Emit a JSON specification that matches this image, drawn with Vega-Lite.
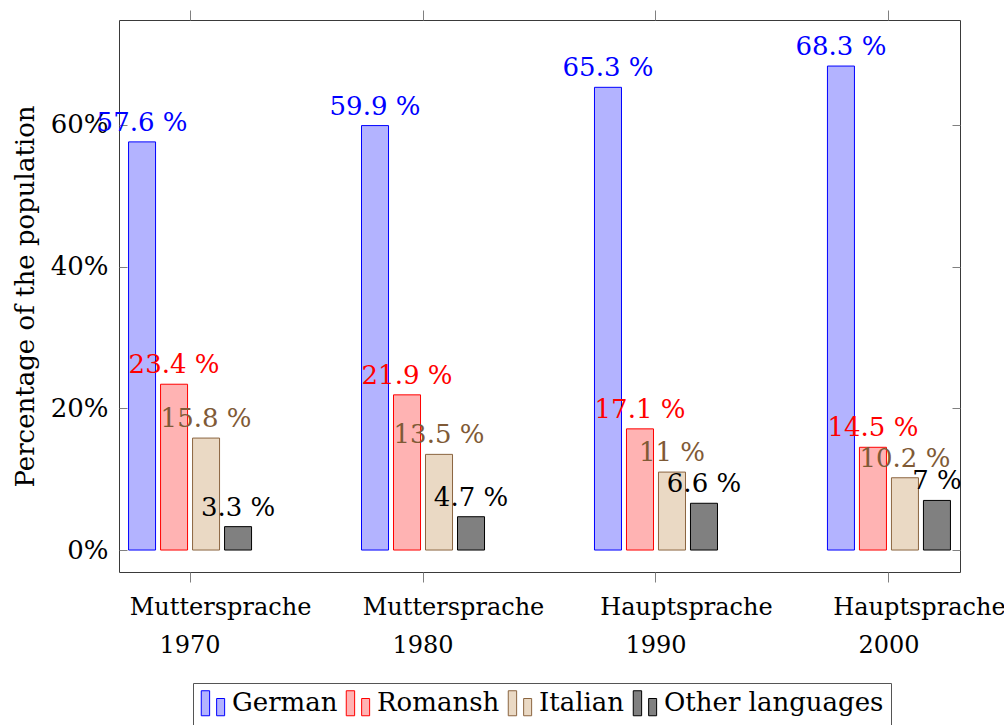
{
  "$schema": "https://vega.github.io/schema/vega-lite/v6.json",
  "autosize": {"type": "none"},
  "padding": {"left": 119, "top": 20, "right": 44, "bottom": 153},
  "width": 841,
  "height": 552,
  "background": "white",
  "config": {
    "view": {"stroke": "#3a3a3a", "strokeWidth": 1},
    "font": "DejaVu Serif"
  },
  "data": {
    "values": [
      {"cat": "Muttersprache|1970", "lang": "German", "value": 57.6, "label": "57.6 %"},
      {"cat": "Muttersprache|1970", "lang": "Romansh", "value": 23.4, "label": "23.4 %"},
      {"cat": "Muttersprache|1970", "lang": "Italian", "value": 15.8, "label": "15.8 %"},
      {"cat": "Muttersprache|1970", "lang": "Other languages", "value": 3.3, "label": "3.3 %"},
      {"cat": "Muttersprache|1980", "lang": "German", "value": 59.9, "label": "59.9 %"},
      {"cat": "Muttersprache|1980", "lang": "Romansh", "value": 21.9, "label": "21.9 %"},
      {"cat": "Muttersprache|1980", "lang": "Italian", "value": 13.5, "label": "13.5 %"},
      {"cat": "Muttersprache|1980", "lang": "Other languages", "value": 4.7, "label": "4.7 %"},
      {"cat": "Hauptsprache|1990", "lang": "German", "value": 65.3, "label": "65.3 %"},
      {"cat": "Hauptsprache|1990", "lang": "Romansh", "value": 17.1, "label": "17.1 %"},
      {"cat": "Hauptsprache|1990", "lang": "Italian", "value": 11, "label": "11 %"},
      {"cat": "Hauptsprache|1990", "lang": "Other languages", "value": 6.6, "label": "6.6 %"},
      {"cat": "Hauptsprache|2000", "lang": "German", "value": 68.3, "label": "68.3 %"},
      {"cat": "Hauptsprache|2000", "lang": "Romansh", "value": 14.5, "label": "14.5 %"},
      {"cat": "Hauptsprache|2000", "lang": "Italian", "value": 10.2, "label": "10.2 %"},
      {"cat": "Hauptsprache|2000", "lang": "Other languages", "value": 7, "label": "7 %"}
    ]
  },
  "resolve": {"axis": {"x": "independent", "y": "independent"}},
  "layer": [
    {
      "mark": {"type": "bar", "strokeWidth": 1},
      "encoding": {
        "x": {
          "field": "cat", "type": "nominal", "sort": null,
          "scale": {"paddingInner": 0.472, "paddingOuter": 0.041},
          "axis": {
            "title": null, "labelAngle": 0, "domain": false,
            "ticks": true, "tickSize": 10, "tickColor": "#808080",
            "labelFont": "DejaVu Serif", "labelFontSize": 24, "labelColor": "black",
            "labelBaseline": "alphabetic", "labelPadding": 32, "labelLineHeight": 38,
            "labelLimit": 500, "labelOverlap": false,
            "labelExpr": "['\u200b\u00a0\u00a0\u00a0\u00a0\u00a0\u00a0\u00a0\u00a0' + split(datum.label, '|')[0], split(datum.label, '|')[1]]"
          }
        },
        "xOffset": {
          "field": "lang", "type": "nominal",
          "sort": ["German", "Romansh", "Italian", "Other languages"],
          "scale": {"paddingInner": 0.156, "paddingOuter": 0}
        },
        "y": {
          "field": "value", "type": "quantitative",
          "scale": {"domain": [-3.1, 74.8], "nice": false, "zero": false},
          "axis": {
            "title": "Percentage of the population",
            "titleFont": "DejaVu Serif", "titleFontSize": 26, "titleFontWeight": "normal",
            "titleColor": "black", "titleAngle": -90, "titleBaseline": "alphabetic",
            "titleAlign": "center", "titleX": -86, "titleY": 276,
            "values": [0, 20, 40, 60], "grid": false, "domain": false,
            "tickSize": -8, "tickColor": "#808080",
            "labelFont": "DejaVu Serif", "labelFontSize": 26, "labelColor": "black",
            "labelPadding": 19, "labelExpr": "datum.value + '%'"
          }
        },
        "y2": {"datum": 0},
        "fill": {
          "field": "lang", "type": "nominal",
          "sort": ["German", "Romansh", "Italian", "Other languages"],
          "scale": {"domain": ["German", "Romansh", "Italian", "Other languages"], "range": ["#b3b3ff", "#ffb3b3", "#ead9c4", "#808080"]},
          "legend": {
            "title": null, "orient": "none", "legendX": 74, "legendY": 663,
            "direction": "horizontal", "columns": 4,
            "symbolType": "M-0.94,1V-1H-0.27V1ZM0.29,1V-0.38H0.93V1Z",
            "symbolSize": 625, "symbolStrokeWidth": 1, "symbolOpacity": 1,
            "labelFont": "DejaVu Serif", "labelFontSize": 26, "labelColor": "black",
            "labelLimit": 400,
            "labelOffset": 6, "columnPadding": 6, "padding": 7,
            "strokeColor": "#555555", "fillColor": "white"
          }
        },
        "stroke": {
          "field": "lang", "type": "nominal",
          "sort": ["German", "Romansh", "Italian", "Other languages"],
          "scale": {"domain": ["German", "Romansh", "Italian", "Other languages"], "range": ["#0000ff", "#ff0000", "#8b6540", "#000000"]},
          "legend": {
            "title": null, "orient": "none", "legendX": 74, "legendY": 663,
            "direction": "horizontal", "columns": 4,
            "symbolType": "M-0.94,1V-1H-0.27V1ZM0.29,1V-0.38H0.93V1Z",
            "symbolSize": 625, "symbolStrokeWidth": 1, "symbolOpacity": 1,
            "labelFont": "DejaVu Serif", "labelFontSize": 26, "labelColor": "black",
            "labelLimit": 400,
            "labelOffset": 6, "columnPadding": 6, "padding": 7,
            "strokeColor": "#555555", "fillColor": "white"
          }
        }
      }
    },
    {
      "mark": {"type": "text", "baseline": "alphabetic", "align": "center", "dy": -11, "font": "DejaVu Serif", "fontSize": 26},
      "encoding": {
        "x": {
          "field": "cat", "type": "nominal", "sort": null,
          "axis": {"orient": "top", "labels": false, "title": null, "domain": false, "tickSize": 10, "tickColor": "#808080"}
        },
        "xOffset": {
          "field": "lang", "type": "nominal",
          "sort": ["German", "Romansh", "Italian", "Other languages"]
        },
        "y": {
          "field": "value", "type": "quantitative",
          "axis": {"orient": "right", "labels": false, "title": null, "domain": false, "grid": false, "values": [0, 20, 40, 60], "tickSize": -8, "tickColor": "#808080"}
        },
        "text": {"field": "label"},
        "color": {
          "field": "lang", "type": "nominal",
          "scale": {"domain": ["German", "Romansh", "Italian", "Other languages"], "range": ["#0000ff", "#ff0000", "#7f5a36", "#000000"]},
          "legend": null
        }
      }
    }
  ]
}
